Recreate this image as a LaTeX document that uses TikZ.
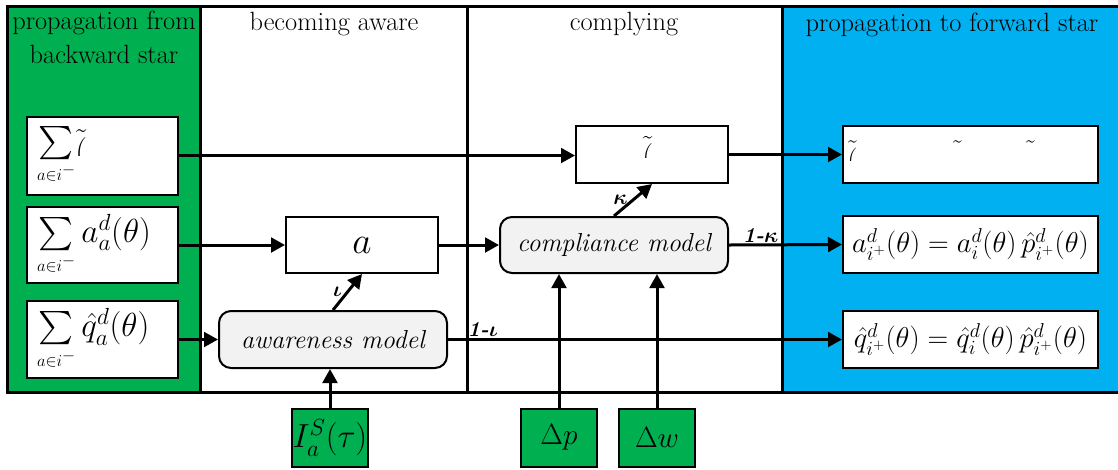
\documentclass[tikz,border=0pt]{standalone}
\usepackage{fix-cm}
\usepackage{amsmath}
\usetikzlibrary{arrows.meta}

\definecolor{stargreen}{RGB}{0,176,80}
\definecolor{starblue}{RGB}{0,176,240}
\definecolor{modelgrey}{RGB}{242,242,242}

\begin{document}
\begin{tikzpicture}[x=0.75pt,y=-0.75pt,
  panel/.style={draw=black,line width=2.25pt},
  head/.style={inner sep=0pt,font=\fontsize{19.8}{25.5}\selectfont,align=center},
  box/.style={draw,line width=1.5pt,fill=white,inner sep=0pt},
  lbox/.style={box,inner xsep=7.5pt,inner ysep=0pt,text width=98.25pt,align=left,
    minimum width=113.25pt,font=\fontsize{25}{30}\selectfont},
  rbox/.style={box,minimum width=191.25pt,minimum height=42.75pt,font=\fontsize{21.5}{24}\selectfont},
  model/.style={draw,line width=1.5pt,fill=modelgrey,rounded corners=9pt,inner sep=0pt,
    minimum width=171pt,font=\fontsize{19.5}{24}\selectfont\itshape},
  src/.style={draw,line width=1.5pt,fill=stargreen,inner sep=0pt,
    minimum width=57pt,minimum height=43.5pt},
  conn/.style={line width=2.25pt,-{Triangle[length=10.5pt,width=11pt]}},
  lab/.style={inner sep=1pt,font=\fontsize{16}{16}\selectfont\bfseries\itshape\boldmath},
  frag/.style={inner sep=0pt,anchor=base west}]
\useasboundingbox (0,0) rectangle (1118,469);

% stage panels
\path[panel,fill=stargreen] (7,6) rectangle (200,392);
\path[panel,fill=white] (200,6) rectangle (467,392);
\path[panel,fill=white] (467,6) rectangle (782,392);
\path[panel,fill=starblue] (782,6) rectangle (1122,392);

% stage titles
\node[head,anchor=north] (hback) at (104,11) {propagation from\\backward star};
\node[head,anchor=base] (haware) at (334,30) {becoming aware};
\node[head,anchor=base] (hcomply) at (624,30) {complying};
\node[head,anchor=base] (hfwd) at (952,31) {propagation to forward star};

% incoming sums from the backward star
\node[lbox,minimum height=58.5pt] (L1) at (102.5,155.5)
  {$\sum\limits_{\scriptscriptstyle a\in i^{-}}$};
\node[lbox,minimum height=57pt] (L2) at (102.5,245)
  {$\sum\limits_{\scriptscriptstyle a\in i^{-}} a_a^d(\theta)$};
\node[lbox,minimum height=57.75pt] (L3) at (102.5,339.5)
  {$\sum\limits_{\scriptscriptstyle a\in i^{-}} \hat{q}_a^d(\theta)$};

% awareness and compliance stages
\node[box,minimum width=114pt,minimum height=42pt,font=\fontsize{28}{30}\selectfont] (A) at (362,245) {$a$};
\node[box,minimum width=114pt,minimum height=42.75pt] (T) at (652,154.5) {};
\node[model,minimum height=42pt] (C) at (614,245) {compliance model};
\node[model,minimum height=42.75pt] (W) at (333,339.5) {awareness model};

% outgoing flows to the forward star
\node[rbox] (R1) at (970.5,154.5) {};
\node[rbox] (R2) at (970.5,244.5)
  {$a_{i^+}^d(\theta)=a_i^d(\theta)\,\hat{p}_{i^+}^d(\theta)$};
\node[rbox] (R3) at (970.5,339.5)
  {$\hat{q}_{i^+}^d(\theta)=\hat{q}_i^d(\theta)\,\hat{p}_{i^+}^d(\theta)$};

% exogenous inputs
\node[src,font=\fontsize{25}{30}\selectfont] (I) at (330,438) {$I_a^S(\tau)$};
\node[src,font=\fontsize{22}{26}\selectfont] (DP) at (559,437.5) {$\Delta p$};
\node[src,font=\fontsize{22}{26}\selectfont] (DW) at (657,437.5) {$\Delta w$};

% tilde accents over half-set parentheses
\begin{scope}
  \clip (60,110) rectangle (100,155);
  \node[frag,font=\fontsize{25}{30}\selectfont] (fl) at (75,162) {$\tilde{(}$};
\end{scope}
\begin{scope}
  \clip (630,120) rectangle (670,157);
  \node[frag,font=\fontsize{23}{28}\selectfont] (fm) at (642,166) {$\tilde{(}$};
\end{scope}
\begin{scope}
  \clip (845,120) rectangle (880,160);
  \node[frag,font=\fontsize{21.5}{24}\selectfont] (fr) at (847,169) {$\tilde{(}$};
\end{scope}
\node[frag,font=\fontsize{21.5}{24}\selectfont] (fr2) at (952,169) {$\tilde{\phantom{(}}$};
\node[frag,font=\fontsize{21.5}{24}\selectfont] (fr3) at (1025,169) {$\tilde{\phantom{(}}$};

% connectors
\draw[conn] (L1.east) -- (L1.east -| T.west);
\draw[conn] (L2.east) -- (A.west);
\draw[conn] (L3.east) -- (W.west);
\draw[conn] (A.east) -- (C.west);
\draw[conn] (T.east) -- (R1.west);
\draw[conn] (C.east) -- node[lab,pos=.28,above] {1-$\kappa$} (R2.west);
\draw[conn] (W.east) -- node[lab,pos=.088,above] {1-$\iota$} (R3.west);
\draw[conn] (W.north) -- node[lab,left=2pt] {$\iota$} (A.south);
\draw[conn] (C.north) -- node[lab,left=2pt] {$\kappa$} (T.south);
\draw[conn] (I.north) -- (I.north |- W.south);
\draw[conn] (DP.north) -- (DP.north |- C.south);
\draw[conn] (DW.north) -- (DW.north |- C.south);
\end{tikzpicture}
\end{document}
